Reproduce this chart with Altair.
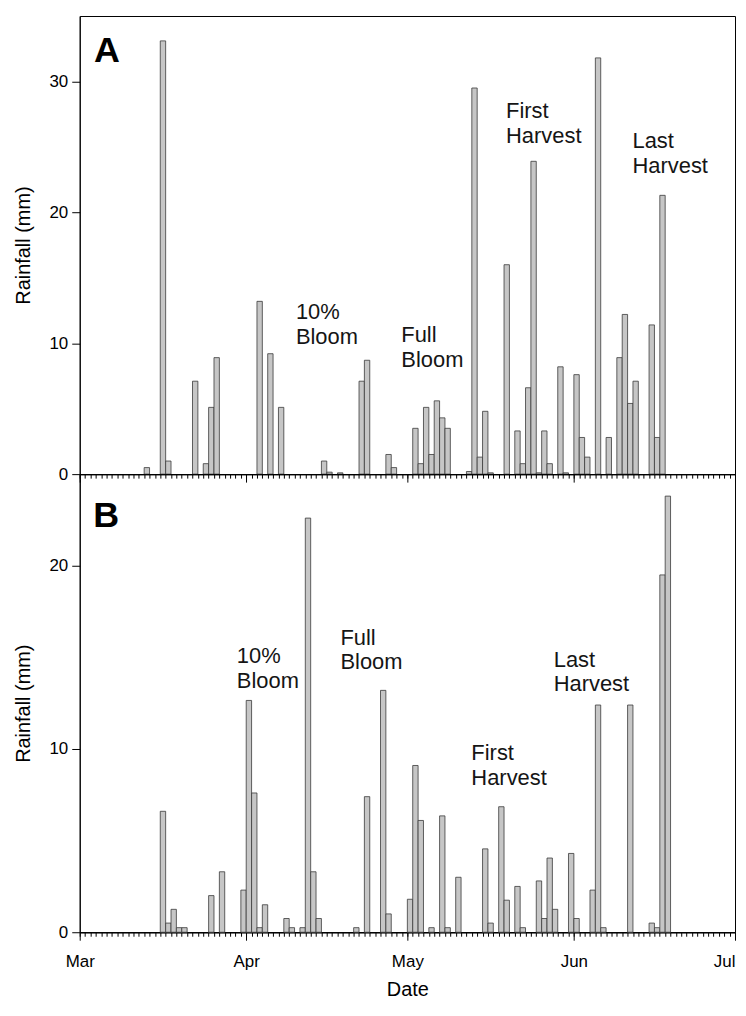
import altair as alt
import pandas as pd

FONT = "Liberation Sans"

# ---------------- Panel A : daily rainfall (mm) ----------------
a_dates = [
    "2013-03-13", "2013-03-16", "2013-03-17", "2013-03-22", "2013-03-24", "2013-03-25", "2013-03-26",
    "2013-04-03", "2013-04-05", "2013-04-07", "2013-04-15", "2013-04-16", "2013-04-18",
    "2013-04-22", "2013-04-23", "2013-04-27", "2013-04-28",
    "2013-05-02", "2013-05-03", "2013-05-04", "2013-05-05", "2013-05-06", "2013-05-07", "2013-05-08",
    "2013-05-12", "2013-05-13", "2013-05-14", "2013-05-15", "2013-05-16",
    "2013-05-19", "2013-05-21", "2013-05-22", "2013-05-23", "2013-05-24", "2013-05-25",
    "2013-05-26", "2013-05-27", "2013-05-29", "2013-05-30",
    "2013-06-01", "2013-06-02", "2013-06-03", "2013-06-05", "2013-06-07",
    "2013-06-09", "2013-06-10", "2013-06-11", "2013-06-12",
    "2013-06-15", "2013-06-16", "2013-06-17",
]
a_rain = [
    0.5, 33.1, 1.0, 7.1, 0.8, 5.1, 8.9,
    13.2, 9.2, 5.1, 1.0, 0.15, 0.1,
    7.1, 8.7, 1.5, 0.5,
    3.5, 0.8, 5.1, 1.5, 5.6, 4.3, 3.5,
    0.2, 29.5, 1.3, 4.8, 0.1,
    16.0, 3.3, 0.8, 6.6, 23.9, 0.1,
    3.3, 0.8, 8.2, 0.1,
    7.6, 2.8, 1.3, 31.8, 2.8,
    8.9, 12.2, 5.4, 7.1,
    11.4, 2.8, 21.3,
]

# ---------------- Panel B : daily rainfall (mm) ----------------
b_dates = [
    "2013-03-16", "2013-03-17", "2013-03-18", "2013-03-19", "2013-03-20",
    "2013-03-25", "2013-03-27", "2013-03-31", "2013-04-01", "2013-04-02", "2013-04-03", "2013-04-04",
    "2013-04-08", "2013-04-09", "2013-04-11", "2013-04-12", "2013-04-13", "2013-04-14",
    "2013-04-21", "2013-04-23", "2013-04-26", "2013-04-27",
    "2013-05-01", "2013-05-02", "2013-05-03", "2013-05-05", "2013-05-07", "2013-05-08", "2013-05-10",
    "2013-05-15", "2013-05-16", "2013-05-18", "2013-05-19", "2013-05-21", "2013-05-22",
    "2013-05-25", "2013-05-26", "2013-05-27", "2013-05-28", "2013-05-31",
    "2013-06-01", "2013-06-04", "2013-06-05", "2013-06-06", "2013-06-11",
    "2013-06-15", "2013-06-16", "2013-06-17", "2013-06-18",
]
b_rain = [
    6.6, 0.5, 1.25, 0.25, 0.25,
    2.0, 3.3, 2.3, 12.65, 7.6, 0.25, 1.5,
    0.75, 0.25, 0.25, 22.6, 3.3, 0.75,
    0.25, 7.4, 13.2, 1.0,
    1.8, 9.1, 6.1, 0.25, 6.35, 0.25, 3.0,
    4.55, 0.5, 6.85, 1.75, 2.5, 0.25,
    2.8, 0.75, 4.05, 1.25, 4.3,
    0.75, 2.3, 12.4, 0.25, 12.4,
    0.5, 0.25, 19.5, 23.8,
]

# ---------------- Annotations ----------------
stage_labels = ["10%\nBloom", "Full\nBloom", "First\nHarvest", "Last\nHarvest"]
a_stage_dates = ["2013-04-10T06:00:00Z", "2013-04-29T21:00:00Z", "2013-05-19T09:00:00Z", "2013-06-11T22:00:00Z"]
a_stage_vals = [11.85, 10.1, 27.2, 24.9]
b_stage_dates = ["2013-03-30T06:00:00Z", "2013-04-18T13:00:00Z", "2013-05-12T22:00:00Z", "2013-05-28T06:00:00Z"]
b_stage_vals = [14.7, 15.7, 9.4, 14.5]

month_starts = ["2013-03-01", "2013-04-01", "2013-05-01", "2013-06-01", "2013-07-01"]

panel_letters = ["A", "B"]
letter_dates = ["2013-03-03T16:00:00Z", "2013-03-03T12:00:00Z"]
letter_vals = [31.5, 22.1]

y_max = [35, 25]
y_ticks = [[0, 10, 20, 30], [0, 10, 20]]

W, H = 658, 460


def dt(m, d):
    return alt.DateTime(year=2013, month=m, date=d, hours=0, utc=True)


def panel(dates, rain, st_dates, st_vals, letter, l_date, l_val, ymax, yvals, bottom):
    bars_df = pd.DataFrame({"start": dates, "rain": rain})
    bars_df["end"] = (pd.to_datetime(bars_df["start"]) + pd.Timedelta(days=1)).dt.strftime("%Y-%m-%d")

    xscale = alt.Scale(type="utc", domain=[dt(3, 1), dt(7, 1)], nice=False)
    yscale = alt.Scale(domain=[0, ymax], nice=False, zero=True)

    minor_axis = alt.Axis(orient="bottom", tickCount={"interval": "day", "step": 1},
                          labels=False, title=None, tickSize=4, grid=False, domain=True)
    yaxis = alt.Axis(values=yvals, tickSize=8, labelPadding=4, title="Rainfall (mm)",
                     titlePadding=15, grid=False)

    bars = alt.Chart(bars_df).mark_rect(
        fill="#c6c6c6", stroke="#3a3a3a", strokeWidth=0.8
    ).encode(
        x=alt.X("start:T", scale=xscale, axis=minor_axis),
        x2="end:T",
        y=alt.Y("rain:Q", scale=yscale, axis=yaxis),
        y2=alt.datum(0),
    )

    if bottom:
        major_axis = alt.Axis(orient="bottom", tickCount={"interval": "month", "step": 1},
                              format="%b", labels=True, title="Date", tickSize=8,
                              labelPadding=13, titlePadding=11, grid=False, domain=True,
                              labelFlush=False,
                              labelAlign={"condition": {"test": "datum.label == 'Jul'", "value": "right"},
                                          "value": "center"})
    else:
        major_axis = alt.Axis(orient="bottom", tickCount={"interval": "month", "step": 1},
                              labels=False, title=None, tickSize=8, grid=False, domain=True)

    months = alt.Chart(pd.DataFrame({"m": month_starts})).mark_point(opacity=0, size=1).encode(
        x=alt.X("m:T", scale=xscale, axis=major_axis)
    )

    ann_df = pd.DataFrame({"d": st_dates, "v": st_vals, "t": stage_labels})
    ann = alt.Chart(ann_df).mark_text(
        align="left", baseline="alphabetic", font=FONT, fontSize=22, lineHeight=25,
        lineBreak="\n", color="#151515"
    ).encode(
        x=alt.X("d:T", scale=xscale, axis=None),
        y=alt.Y("v:Q", scale=yscale, axis=yaxis),
        text="t:N",
    )

    let_df = pd.DataFrame({"d": [l_date], "v": [l_val], "t": [letter]})
    let = alt.Chart(let_df).mark_text(
        align="left", baseline="alphabetic", font=FONT, fontSize=36, fontWeight="bold", color="black"
    ).encode(
        x=alt.X("d:T", scale=xscale, axis=None),
        y=alt.Y("v:Q", scale=yscale, axis=yaxis),
        text="t:N",
    )

    return alt.layer(bars, months, ann, let).resolve_axis(x="independent").properties(width=W, height=H)


top = panel(a_dates, a_rain, a_stage_dates, a_stage_vals, panel_letters[0], letter_dates[0],
            letter_vals[0], y_max[0], y_ticks[0], False)
bot = panel(b_dates, b_rain, b_stage_dates, b_stage_vals, panel_letters[1], letter_dates[1],
            letter_vals[1], y_max[1], y_ticks[1], True)

chart = alt.vconcat(top, bot, spacing=0, bounds="flush").properties(
    padding={"left": 5, "top": 5, "right": 2, "bottom": 0}
).configure_axis(
    labelFont=FONT, titleFont=FONT, labelFontSize=17, titleFontSize=20,
    labelColor="black", titleColor="black", tickColor="black", domainColor="black",
    titleFontWeight="normal", grid=False
).configure_view(
    stroke="black", strokeWidth=1
)

chart.save("out.html", embed_options={"renderer": "svg", "actions": False})
